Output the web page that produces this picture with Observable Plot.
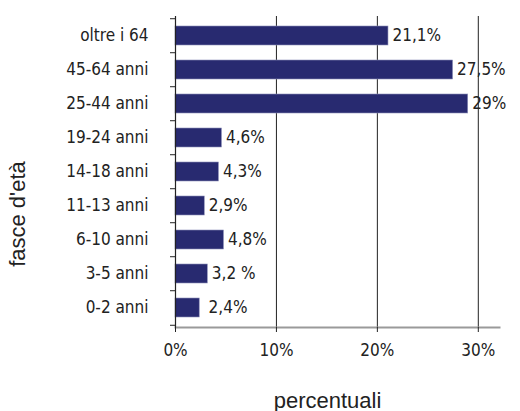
<!DOCTYPE html>
<html>
<head>
<meta charset="utf-8">
<script src="https://cdn.jsdelivr.net/npm/d3@7"></script>
<script src="https://cdn.jsdelivr.net/npm/@observablehq/plot@0.6"></script>
<style>
  html, body { margin: 0; padding: 0; background: #fff; }
  #chart svg { display: block; }
</style>
</head>
<body>
<div id="chart"></div>
<script>
const categories = ["oltre i 64", "45-64 anni", "25-44 anni", "19-24 anni", "14-18 anni", "11-13 anni", "6-10 anni", "3-5 anni", "0-2 anni"];
const values = [21.1, 27.5, 29, 4.6, 4.3, 2.9, 4.8, 3.2, 2.4];
const labels = ["21,1%", "27,5%", "29%", "4,6%", "4,3%", "2,9%", "4,8%", "3,2 %", " 2,4%"];
const xTicks = [0, 10, 20, 30];
const xTickLabels = ["0%", "10%", "20%", "30%"];
const yTitle = "fasce d'età";
const xTitle = "percentuali";

const data = categories.map((c, i) => ({cat: c, value: values[i], label: labels[i]}));

const W = 520, H = 411;
const mTop = 16, mBottom = 84, mLeft = 175, mRight = 21;
const step = (H - mTop - mBottom) / categories.length;
const narrow = "'Liberation Sans Narrow', 'DejaVu Sans Condensed', 'Arial Narrow', sans-serif";
const regular = "'Liberation Sans', Arial, sans-serif";

const chart = Plot.plot({
  width: W,
  height: H,
  marginTop: mTop,
  marginBottom: mBottom,
  marginLeft: mLeft,
  marginRight: mRight,
  style: {fontFamily: narrow, fontSize: "17px", color: "#222", background: "#fff"},
  x: {domain: [0, 32.1]},
  y: {domain: categories, paddingInner: 0.45, paddingOuter: 0.225},
  marks: [
    Plot.gridX(xTicks.slice(1), {stroke: "#222", strokeOpacity: 1, strokeWidth: 1}),
    Plot.barX(data, {y: "cat", x: "value", fill: "#282a70", stroke: "#8d8fb8", strokeWidth: 0.6}),
    Plot.text(data, {y: "cat", x: "value", text: "label", textAnchor: "start", dx: 4, fontSize: 17, fill: "#222"}),
    Plot.frame({anchor: "bottom", stroke: "#9a9a9a", strokeWidth: 2}),
    Plot.ruleX([0], {stroke: "#222", strokeWidth: 1.2}),
    Plot.axisX(xTicks, {tickSize: 5, tickPadding: 11, tickFormat: (d) => xTickLabels[xTicks.indexOf(d)], fontSize: 17, label: null, stroke: "#222"}),
    Plot.axisY({tickSize: 0, tickPadding: 27, fontSize: 17, label: null}),
    Plot.axisY(categories, {tickSize: 5, text: null, dy: -step / 2, label: null, stroke: "#222"}),
    Plot.axisY([categories[categories.length - 1]], {tickSize: 5, text: null, dy: step / 2, label: null, stroke: "#222"}),
    Plot.text([xTitle], {frameAnchor: "bottom", dx: -10, dy: 80, fontSize: 22, fontFamily: regular, fill: "#222"})
  ]
});
d3.select(chart).append("text")
  .attr("transform", "translate(19,214) rotate(-90)")
  .attr("text-anchor", "middle")
  .attr("dominant-baseline", "middle")
  .attr("font-family", regular)
  .attr("font-size", 22)
  .attr("fill", "#222")
  .text(yTitle);
document.getElementById("chart").appendChild(chart);
</script>
</body>
</html>
